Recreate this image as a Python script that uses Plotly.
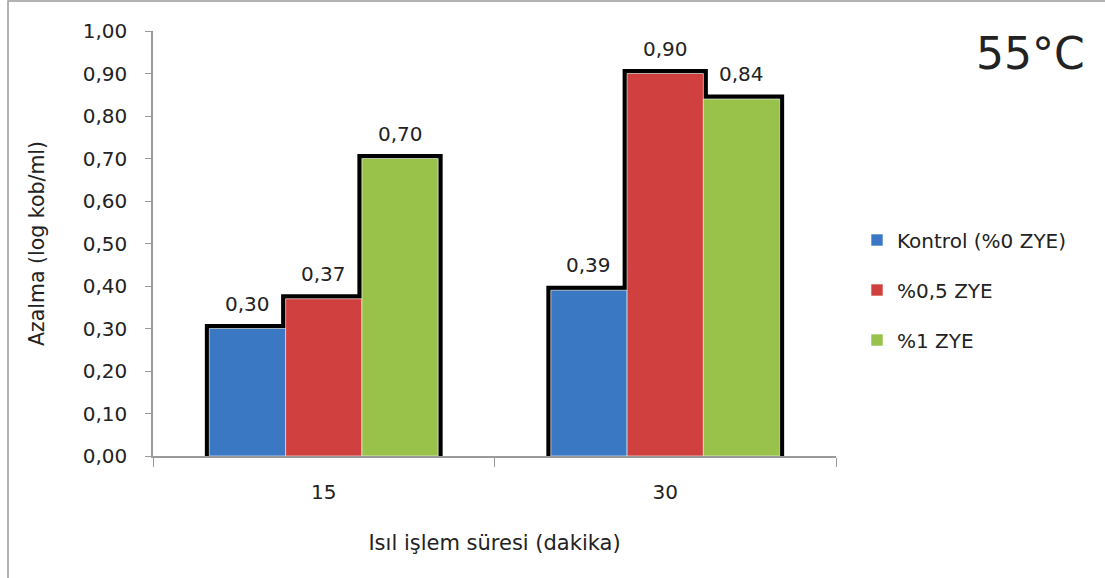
import plotly.graph_objects as go

# Heat treatment duration (minutes) and reduction values
categories = ["15", "30"]
series_names = ["Kontrol (%0 ZYE)", "%0,5 ZYE", "%1 ZYE"]
kontrol = [0.30, 0.39]
zye_05 = [0.37, 0.90]
zye_1 = [0.70, 0.84]
y_ticks = [0.0, 0.1, 0.2, 0.3, 0.4, 0.5, 0.6, 0.7, 0.8, 0.9, 1.0]

series_values = [kontrol, zye_05, zye_1]
colors = ["#3A78C3", "#D0403F", "#98C24A"]
font_family = "'DejaVu Sans', Verdana, sans-serif"
bargap = 0.33

W, H = 1105, 578
L, R, T, B = 153, 269, 31, 122
pw, ph = W - L - R, H - T - B

n = len(series_names)
bar_w = (1 - bargap) / n          # bar width in category units
group_start = -(1 - bargap) / 2   # left edge of a group relative to its category

fig = go.Figure()

# dark halo behind each bar
for i, vals in enumerate(series_values):
    fig.add_trace(go.Bar(
        x=categories, y=vals, width=bar_w, offset=group_start + i * bar_w,
        showlegend=False, hoverinfo="skip",
        marker=dict(color="#000000", line=dict(color="#000000", width=9)),
    ))

for i, (name, vals, col) in enumerate(zip(series_names, series_values, colors)):
    fig.add_trace(go.Bar(
        x=categories, y=vals, name=name, legendgroup=f"g{i}",
        width=bar_w, offset=group_start + i * bar_w,
        marker=dict(color=col, line=dict(color="rgba(255,255,255,0.6)", width=1)),
    ))

# value labels above each bar (category axis positions are 0, 1, ...)
annotations = []
for i, vals in enumerate(series_values):
    center = group_start + (i + 0.5) * bar_w
    for j, v in enumerate(vals):
        annotations.append(dict(
            x=j + center, y=v, xref="x", yref="y", yshift=25,
            text=f"{v:.2f}".replace(".", ","), showarrow=False,
            xanchor="center", yanchor="middle",
            font=dict(size=20, color="#222222", family=font_family),
        ))


def px_x(p):
    return (p - L) / pw


def px_y(p):
    return (H - B - p) / ph


annotations.append(dict(
    text="55°C", xref="paper", yref="paper", x=px_x(1087), y=px_y(53),
    xanchor="right", yanchor="middle", showarrow=False,
    font=dict(size=44, color="#222222", family=font_family),
))

fig.update_layout(
    width=W, height=H,
    margin=dict(l=L, r=R, t=T, b=B),
    paper_bgcolor="white", plot_bgcolor="white",
    separators=", ",
    barmode="overlay",
    font=dict(family=font_family, size=20, color="#222222"),
    xaxis=dict(
        type="category", categoryorder="array", categoryarray=categories,
        range=[-0.5, len(categories) - 0.5],
        showline=True, linecolor="#9A9A9A", linewidth=1.5,
        ticks="outside", tickson="boundaries", ticklen=9, tickcolor="#9A9A9A",
        tickfont=dict(size=20), showgrid=False, ticklabelstandoff=17,
        title=dict(text="Isıl işlem süresi (dakika)", font=dict(size=21), standoff=33),
    ),
    yaxis=dict(
        range=[0, 1], tickvals=y_ticks, tickformat=".2f",
        showline=True, linecolor="#9A9A9A", linewidth=1.5,
        ticks="outside", ticklen=6, tickcolor="#9A9A9A",
        tickfont=dict(size=20), showgrid=False, zeroline=False, ticklabelstandoff=14,
        title=dict(text="Azalma (log kob/ml)", font=dict(size=20.5), standoff=33),
    ),
    legend=dict(
        x=px_x(857), y=px_y(290), xanchor="left", yanchor="middle",
        font=dict(size=20), tracegroupgap=21, bgcolor="rgba(0,0,0,0)",
        itemwidth=30,
    ),
    showlegend=True,
    annotations=annotations,
    shapes=[dict(
        type="rect", xref="paper", yref="paper",
        x0=px_x(8), x1=px_x(1120), y0=px_y(600), y1=px_y(1),
        line=dict(color="#9A9A9A", width=1.5), fillcolor="rgba(0,0,0,0)", layer="below",
    )],
)

fig.write_html("out.html")
